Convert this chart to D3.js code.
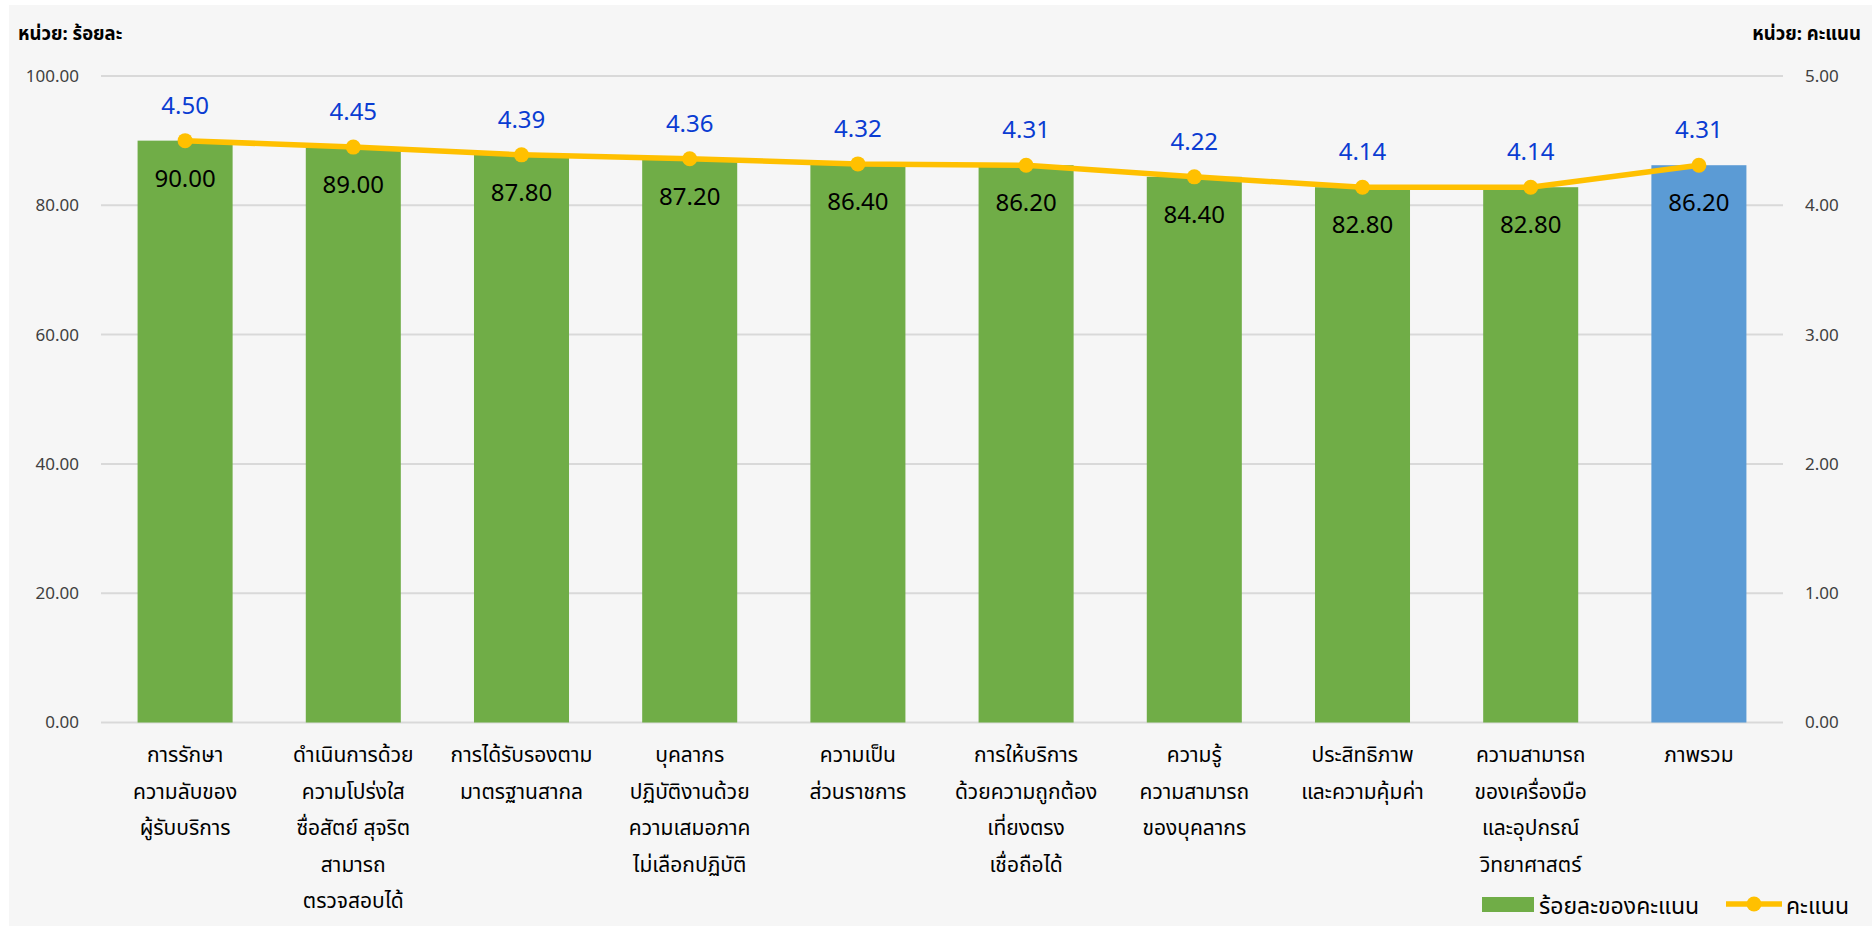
<!DOCTYPE html>
<html><head><meta charset="utf-8">
<script src="https://cdn.jsdelivr.net/npm/d3@7"></script>
<style>
html,body{margin:0;padding:0;background:#fff;}
svg{display:block;}
</style></head>
<body>
<svg id="chart" width="1872" height="926"></svg>
<script>
const categories = [
  ["การรักษา","ความลับของ","ผู้รับบริการ"],
  ["ดำเนินการด้วย","ความโปร่งใส","ซื่อสัตย์ สุจริต","สามารถ","ตรวจสอบได้"],
  ["การได้รับรองตาม","มาตรฐานสากล"],
  ["บุคลากร","ปฏิบัติงานด้วย","ความเสมอภาค","ไม่เลือกปฏิบัติ"],
  ["ความเป็น","ส่วนราชการ"],
  ["การให้บริการ","ด้วยความถูกต้อง","เที่ยงตรง","เชื่อถือได้"],
  ["ความรู้","ความสามารถ","ของบุคลากร"],
  ["ประสิทธิภาพ","และความคุ้มค่า"],
  ["ความสามารถ","ของเครื่องมือ","และอุปกรณ์","วิทยาศาสตร์"],
  ["ภาพรวม"]
];
const percentValues = [90.00, 89.00, 87.80, 87.20, 86.40, 86.20, 84.40, 82.80, 82.80, 86.20];
const scoreValues = [4.50, 4.45, 4.39, 4.36, 4.32, 4.31, 4.22, 4.14, 4.14, 4.31];
const leftTicks = [0, 20, 40, 60, 80, 100];
const rightTicks = [0, 1, 2, 3, 4, 5];
const leftUnit = "หน่วย: ร้อยละ";
const rightUnit = "หน่วย: คะแนน";
const barSeriesName = "ร้อยละของคะแนน";
const lineSeriesName = "คะแนน";

const thaiFont = "'Noto Sans Thai','Noto Sans Thai UI','Noto Sans','Loma','Garuda',sans-serif";
const numFont = "'Noto Sans','Open Sans',sans-serif";

const svg = d3.select("#chart");
svg.append("rect").attr("x",9).attr("y",5).attr("width",1863).attr("height",921).attr("fill","#f6f6f6");

const plot = {left:101, right:1783, top:76, bottom:722.5};
const idx = d3.range(categories.length);
const x = d3.scaleBand().domain(idx).range([plot.left, plot.right]).paddingInner(0.435).paddingOuter(0.2175);
const yL = d3.scaleLinear().domain([0,100]).range([plot.bottom, plot.top]);
const yR = d3.scaleLinear().domain([0,5]).range([plot.bottom, plot.top]);

// gridlines
svg.append("g").selectAll("line").data(leftTicks).join("line")
  .attr("x1",plot.left).attr("x2",plot.right)
  .attr("y1",d=>yL(d)).attr("y2",d=>yL(d))
  .attr("stroke","#d9d9d9").attr("stroke-width",2);

// left axis
const gL = svg.append("g").attr("transform",`translate(${plot.left},0)`)
  .call(d3.axisLeft(yL).tickValues(leftTicks).tickFormat(d3.format(".2f")).tickSize(0).tickPadding(22));
gL.select(".domain").remove();
gL.selectAll("text").attr("font-family",numFont).attr("font-size",17).attr("fill","#404040");

// right axis
const gR = svg.append("g").attr("transform",`translate(${plot.right},0)`)
  .call(d3.axisRight(yR).tickValues(rightTicks).tickFormat(d3.format(".2f")).tickSize(0).tickPadding(22));
gR.select(".domain").remove();
gR.selectAll("text").attr("font-family",numFont).attr("font-size",17).attr("fill","#404040");

// bars
svg.append("g").selectAll("rect").data(percentValues).join("rect")
  .attr("x",(d,i)=>x(i)).attr("width",x.bandwidth())
  .attr("y",d=>yL(d)).attr("height",d=>yL(0)-yL(d))
  .attr("fill",(d,i)=> i===percentValues.length-1 ? "#5b9bd5" : "#70ad47");

// bar labels
svg.append("g").selectAll("text").data(percentValues).join("text")
  .attr("x",(d,i)=>x(i)+x.bandwidth()/2).attr("y",d=>yL(d)+46)
  .attr("text-anchor","middle").attr("font-family",numFont).attr("font-size",24)
  .attr("fill","#000").text(d=>d3.format(".2f")(d));

// line
const line = d3.line().x((d,i)=>x(i)+x.bandwidth()/2).y(d=>yR(d));
svg.append("path").datum(scoreValues).attr("d",line)
  .attr("fill","none").attr("stroke","#ffc000").attr("stroke-width",5.5).attr("stroke-linejoin","round");
svg.append("g").selectAll("circle").data(scoreValues).join("circle")
  .attr("cx",(d,i)=>x(i)+x.bandwidth()/2).attr("cy",d=>yR(d)).attr("r",7.5).attr("fill","#ffc000");

// line labels
svg.append("g").selectAll("text").data(scoreValues).join("text")
  .attr("x",(d,i)=>x(i)+x.bandwidth()/2).attr("y",d=>yR(d)-27)
  .attr("text-anchor","middle").attr("font-family",numFont).attr("font-size",24)
  .attr("fill","#0a3cd2").text(d=>d3.format(".2f")(d));

// category labels
const catG = svg.append("g");
categories.forEach((lines,i)=>{
  const t = catG.append("text").attr("text-anchor","middle")
    .attr("font-family",thaiFont).attr("font-size",21).attr("fill","#000");
  lines.forEach((ln,j)=>{
    t.append("tspan").attr("x",x(i)+x.bandwidth()/2).attr("y",762+j*36.5).text(ln);
  });
});

// unit labels
svg.append("text").attr("x",18).attr("y",40).attr("font-family",thaiFont).attr("font-size",18.5)
  .attr("font-weight","bold").attr("fill","#000").text(leftUnit);
svg.append("text").attr("x",1861).attr("y",40).attr("text-anchor","end").attr("font-family",thaiFont).attr("font-size",18.5)
  .attr("font-weight","bold").attr("fill","#000").text(rightUnit);

// legend
const lg = svg.append("g");
lg.append("rect").attr("x",1482).attr("y",897).attr("width",52).attr("height",15).attr("fill","#70ad47");
lg.append("text").attr("x",1539).attr("y",914).attr("font-family",thaiFont).attr("font-size",23).attr("fill","#000").text(barSeriesName);
lg.append("line").attr("x1",1726).attr("x2",1782).attr("y1",904).attr("y2",904).attr("stroke","#ffc000").attr("stroke-width",5.5);
lg.append("circle").attr("cx",1754).attr("cy",904).attr("r",7.5).attr("fill","#ffc000");
lg.append("text").attr("x",1786).attr("y",914).attr("font-family",thaiFont).attr("font-size",23).attr("fill","#000").text(lineSeriesName);
</script>
</body></html>
